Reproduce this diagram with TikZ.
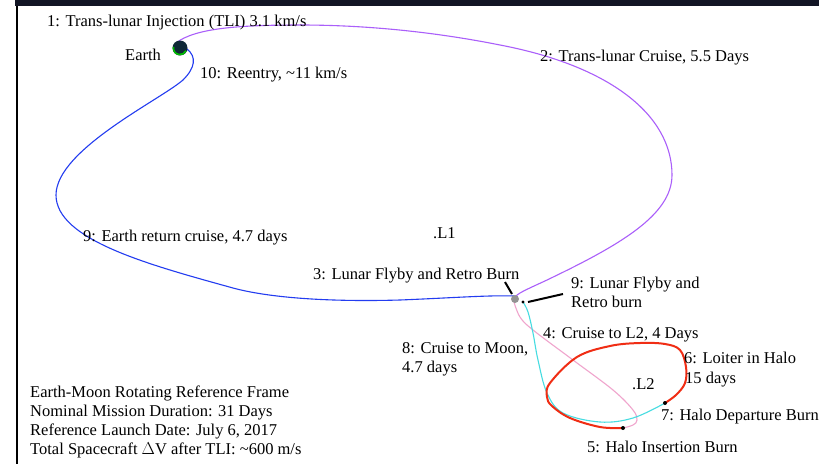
\documentclass[tikz,border=0pt]{standalone}
\usepackage{fontspec}
\setmainfont{Liberation Serif}
\definecolor{trlpurple}{RGB}{170,95,250}
\definecolor{retblue}{RGB}{35,60,240}
\definecolor{cruisecyan}{RGB}{70,220,225}
\definecolor{moonpink}{RGB}{240,165,205}
\definecolor{halored}{RGB}{240,45,20}
\definecolor{earthfill}{RGB}{15,40,55}
\definecolor{barcol}{RGB}{18,21,37}
\tikzset{
  lbl/.style={anchor=base west, inner sep=0pt, font=\fontsize{16.5}{19}\selectfont},
  traj/.style={line width=1.1pt, line cap=round, line join=round},
  leader/.style={line width=2pt},
  burn/.style={fill=black, draw=none}
}
\begin{document}
\begin{tikzpicture}[x=1pt,y=-1pt]
\useasboundingbox (0,0) rectangle (819,464);
\fill[white] (0,0) rectangle (819,464);
% frame
\fill[barcol] (15,0) rectangle (819,6);
\draw[line width=2pt] (17,6) -- (17,464);

% named points
\coordinate (earth) at (180,48);
\coordinate (moon) at (515,299);
\coordinate (b9) at (523,302);
\coordinate (b5) at (623,428);
\coordinate (b7) at (665,403);

% trajectories
\draw[traj, trlpurple] (176,43) .. controls (195,28) and (240,25) .. (300,25)
  .. controls (380,25) and (450,35) .. (500,45)
  .. controls (610,66) and (672,115) .. (672,175)
  .. controls (672,215) and (620,245) .. (547,280)
  .. controls (530,288) and (520,292) .. (516,296);
\draw[traj, retblue] (187,49) .. controls (197,57) and (195,68) .. (183,80)
  .. controls (160,100) and (56,150) .. (56,195)
  .. controls (56,240) and (150,265) .. (233,288)
  .. controls (270,298) and (330,302) .. (400,300)
  .. controls (450,298) and (490,295) .. (514,296);
\draw[traj, moonpink] plot[smooth, tension=0.6] coordinates {
 (514,302) (520,317) (533,330) (573,360) (613,390) (633,410) (637,420) (633,425) (623,428)};
\draw[traj, cruisecyan] plot[smooth, tension=0.6] coordinates {
 (523,302) (528,312) (533,333) (538,360) (547,393) (563,413) (600,422) (633,418) (665,403)};
\draw[halored, line width=2pt, line cap=round] plot[smooth, tension=0.6] coordinates {
 (623,428) (600,427) (570,418) (552,406) (547,397) (550,383) (577,357) (610,346)
 (640,343) (665,344) (680,350) (686,367) (685,383) (676,395) (665,403)};

% bodies
\fill[earthfill] (earth) circle (7.5);
\draw[green!75!black, line width=1.6pt] ([shift={(190:6.6)}]earth) arc[start angle=190, end angle=25, radius=6.6];
\fill[gray!85] (moon) circle (4);
\fill[burn] (b9) circle (1.7);
\fill[burn] (b5) circle (2);
\fill[burn] (b7) circle (2);

% leader lines
\coordinate (l3a) at (505,282);
\coordinate (l3b) at (512,294);
\draw[leader] (l3a) -- (l3b);
\coordinate (l9a) at (528,302);
\coordinate (l9b) at (563,294);
\draw[leader] (l9a) -- (l9b);

% labels
\node[lbl] (t1) at (47,26) {1: Trans-lunar Injection (TLI) 3.1 km/s};
\node[lbl] (tearth) at (125,60) {Earth};
\node[lbl] (t10) at (200,78) {10: Reentry, \textasciitilde11 km/s};
\node[lbl] (t2) at (540,61) {2: Trans-lunar Cruise, 5.5 Days};
\node[lbl] (t9r) at (83,241) {9: Earth return cruise, 4.7 days};
\node[lbl] (tl1) at (433,238) {.L1};
\node[lbl] (t3) at (313,279) {3: Lunar Flyby and Retro Burn};
\node[lbl] (t9a) at (571,288) {9: Lunar Flyby and};
\node[lbl] (t9b) at (571,307) {Retro burn};
\node[lbl] (t4) at (543,338) {4: Cruise to L2, 4 Days};
\node[lbl] (t8a) at (402,353) {8: Cruise to Moon,};
\node[lbl] (t8b) at (402,372) {4.7 days};
\node[lbl] (t6a) at (684,363) {6: Loiter in Halo};
\node[lbl] (t6b) at (685,383) {15 days};
\node[lbl] (tl2) at (632,389) {.L2};
\node[lbl] (t7) at (661,420) {7: Halo Departure Burn};
\node[lbl] (t5) at (587,452) {5: Halo Insertion Burn};
\node[lbl] (f1) at (30,397) {Earth-Moon Rotating Reference Frame};
\node[lbl] (f2) at (30,416) {Nominal Mission Duration: 31 Days};
\node[lbl] (f3) at (30,435) {Reference Launch Date: July 6, 2017};
\node[lbl] (f4) at (30,454) {Total Spacecraft $\Delta$V after TLI: \textasciitilde600 m/s};
\end{tikzpicture}
\end{document}
